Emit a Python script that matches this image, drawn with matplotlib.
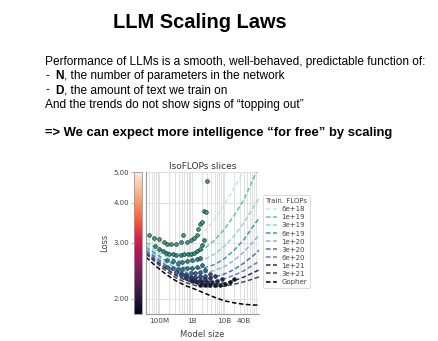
import numpy as np
import matplotlib
matplotlib.use("Agg")
import matplotlib.pyplot as plt
import matplotlib.ticker as mticker
from matplotlib.colors import LogNorm
import seaborn as sns

# slide text
title = "LLM Scaling Laws"
intro = "Performance of LLMs is a smooth, well-behaved, predictable function of:"
bullets = [("N", ", the number of parameters in the network"),
           ("D", ", the amount of text we train on")]
trend_line = "And the trends do not show signs of \u201ctopping out\u201d"
punch_line = "=> We can expect more intelligence \u201cfor free\u201d by scaling"

# IsoFLOP fits, loss at these model sizes
budgets = ["6e+18", "1e+19", "3e+19", "6e+19", "1e+20", "3e+20", "6e+20", "1e+21", "3e+21", "Gopher"]
model_size = [4e7, 8e7, 1.6e8, 3.2e8, 6.3e8, 1.3e9, 2.5e9, 5e9, 1e10, 2e10, 4e10, 8e10, 1.25e11]
fit_loss = [
    [3.08, 3.01, 2.97, 2.95, 2.98, 3.08, 3.25, 3.55, 3.95, 4.45, 5.05, 5.80, 6.40],
    [3.00, 2.90, 2.81, 2.76, 2.75, 2.78, 2.88, 3.05, 3.30, 3.65, 4.10, 4.80, 5.30],
    [2.95, 2.83, 2.72, 2.65, 2.61, 2.61, 2.66, 2.76, 2.92, 3.15, 3.47, 3.90, 4.20],
    [2.90, 2.77, 2.64, 2.55, 2.50, 2.48, 2.50, 2.56, 2.67, 2.84, 3.07, 3.40, 3.62],
    [2.86, 2.73, 2.60, 2.50, 2.44, 2.41, 2.41, 2.45, 2.52, 2.64, 2.81, 3.03, 3.20],
    [2.83, 2.69, 2.55, 2.44, 2.37, 2.33, 2.32, 2.34, 2.39, 2.47, 2.59, 2.74, 2.86],
    [2.80, 2.66, 2.52, 2.41, 2.33, 2.28, 2.26, 2.27, 2.31, 2.37, 2.45, 2.56, 2.63],
    [2.78, 2.63, 2.49, 2.37, 2.29, 2.24, 2.22, 2.22, 2.24, 2.28, 2.34, 2.42, 2.47],
    [2.76, 2.60, 2.45, 2.33, 2.25, 2.20, 2.18, 2.18, 2.19, 2.22, 2.26, 2.31, 2.35],
    [2.70, 2.53, 2.39, 2.28, 2.20, 2.14, 2.08, 2.02, 1.97, 1.94, 1.92, 1.91, 1.91],
]
line_colors = ["#c4ecd4", "#5cc8a0", "#8fd8cc", "#3a9fb5", "#8fb4d8",
               "#4b6fb8", "#7a78b0", "#2e2e5e", "#4a4a4a", "black"]

# training runs (scatter), one list per budget
run_size = [
    [5.1e7, 7.2e7, 1.0e8, 1.45e8, 1.8e8, 2.3e8, 3.3e8, 4.7e8, 5.6e8, 7.4e8, 9.3e8,
     1.17e9, 1.48e9, 1.58e9, 1.86e9, 2.1e9, 2.35e9, 2.8e9, 2.95e9],
    [7.8e7, 1.0e8, 1.3e8, 1.6e8, 2.05e8, 2.6e8, 3.3e8, 4.7e8, 5.9e8, 7.8e8, 9.3e8,
     1.17e9, 1.48e9, 1.78e9, 2.1e9, 2.35e9],
    [1.8e8, 2.6e8, 3.7e8, 5.2e8, 7.4e8, 1.05e9, 1.48e9, 1.86e9],
    [1.8e8, 2.6e8, 3.7e8, 5.2e8, 7.4e8, 1.05e9, 1.48e9, 2.1e9],
    [3.3e8, 4.7e8, 6.6e8, 9.3e8, 1.3e9, 1.86e9, 2.6e9],
    [4.7e8, 6.6e8, 9.3e8, 1.3e9, 1.86e9, 2.6e9, 3.7e9],
    [6.6e8, 9.3e8, 1.3e9, 1.86e9, 2.6e9, 3.7e9, 5.2e9],
    [1.05e9, 1.48e9, 2.1e9, 2.95e9, 4.2e9, 6.0e9, 8.5e9],
    [1.86e9, 2.6e9, 3.7e9, 5.2e9, 7.4e9, 1.05e10, 1.48e10, 2.0e10],
]
run_loss = [
    [3.16, 3.11, 3.07, 3.02, 2.97, 2.96, 2.97, 3.02, 3.18, 3.02, 3.05,
     3.11, 3.18, 3.30, 3.43, 3.47, 3.77, 3.75, 4.69],
    [2.92, 2.87, 2.82, 2.79, 2.77, 2.76, 2.75, 2.75, 2.76, 2.76, 2.77,
     2.79, 2.82, 2.86, 2.95, 3.05],
    [2.64, 2.62, 2.59, 2.61, 2.62, 2.64, 2.66, 2.68],
    [2.51, 2.49, 2.47, 2.48, 2.49, 2.50, 2.52, 2.56],
    [2.43, 2.40, 2.39, 2.40, 2.41, 2.43, 2.46],
    [2.37, 2.35, 2.34, 2.34, 2.35, 2.36, 2.39],
    [2.32, 2.30, 2.29, 2.29, 2.30, 2.32, 2.35],
    [2.28, 2.26, 2.25, 2.25, 2.26, 2.28, 2.30],
    [2.21, 2.20, 2.20, 2.20, 2.21, 2.23, 2.25, 2.30],
]
run_colors = ["#3ea58a", "#2c9a82", "#2a8f8f", "#2d7f9a", "#3b6aa0",
              "#3f4f8f", "#35357a", "#25234f", "#121228"]

x_ticks = [1e8, 1e9, 1e10, 4e10]
x_ticklabels = ["100M", "1B", "10B", "40B"]
y_ticks = [2, 3, 4, 5]
y_lim = (1.79, 5.0)
x_lim = (4e7, 1.15e11)

W, H = 438, 341
fig = plt.figure(figsize=(W / 100, H / 100), dpi=100)
slide_font = "Liberation Sans"
body_size = 8.6

fig.text(199.5 / W, 1 - 22 / H, title, fontsize=14.4, fontweight="bold",
         family=slide_font, ha="center", va="center")

renderer = fig.canvas.get_renderer()
x0 = 45 / W
fig.text(x0, 1 - 62 / H, intro, fontsize=body_size, family=slide_font, va="center")
for i, (bold_part, rest) in enumerate(bullets):
    y = 1 - (76 + 14.5 * i) / H
    fig.text(x0, y, "-", fontsize=body_size, family=slide_font, va="center")
    t = fig.text(55 / W, y, bold_part, fontsize=body_size, family=slide_font,
                 fontweight="bold", va="center")
    bb = t.get_window_extent(renderer)
    fig.text(bb.x1 / W, y, rest, fontsize=body_size, family=slide_font, va="center")
fig.text(x0, 1 - 105 / H, trend_line, fontsize=body_size, family=slide_font, va="center")
fig.text(x0, 1 - 133 / H, punch_line, fontsize=9.4, family=slide_font,
         fontweight="bold", va="center")

# chart
ax_l, ax_r, ax_t, ax_b = 146, 259, 172, 314
ax = fig.add_axes([ax_l / W, 1 - ax_b / H, (ax_r - ax_l) / W, (ax_b - ax_t) / H])
cax = fig.add_axes([134 / W, 1 - ax_b / H, 8 / W, (ax_b - ax_t) / H])

ax.set_xscale("log")
ax.set_yscale("log")
ax.set_xlim(*x_lim)
ax.set_ylim(*y_lim)
ax.grid(True, which="both", axis="x", color="#dcdcdc", lw=0.6)
ax.grid(True, which="major", axis="y", color="#dcdcdc", lw=0.6)
ax.set_axisbelow(True)

for i, name in enumerate(budgets):
    ax.plot(model_size, fit_loss[i], ls=(0, (3, 1.6)), lw=1.1,
            color=line_colors[i], label=name, zorder=2)
for i in range(len(run_size)):
    ax.scatter(run_size[i], run_loss[i], s=7, color=run_colors[i],
               edgecolor="#10202a", linewidth=0.45, zorder=3)

ax.xaxis.set_major_locator(mticker.FixedLocator(x_ticks))
ax.xaxis.set_major_formatter(mticker.FixedFormatter(x_ticklabels))
ax.xaxis.set_minor_locator(mticker.LogLocator(base=10, subs=np.arange(2, 10)))
ax.xaxis.set_minor_formatter(mticker.NullFormatter())
ax.yaxis.set_major_locator(mticker.FixedLocator(y_ticks))
ax.yaxis.set_minor_locator(mticker.NullLocator())
ax.tick_params(axis="y", left=False, labelleft=False)
ax.tick_params(axis="x", which="both", length=0, labelsize=5.2,
               labelcolor="#444444", pad=3)
for s in ax.spines.values():
    s.set_visible(False)
ax.spines["left"].set_visible(True)
ax.spines["bottom"].set_visible(True)
ax.spines["left"].set_color("#999999")
ax.spines["bottom"].set_color("#999999")
ax.spines["left"].set_linewidth(0.8)
ax.spines["bottom"].set_linewidth(0.8)

ax.set_title("IsoFLOPs slices", fontsize=6.5, color="#333333", pad=2)
ax.set_xlabel("Model size", fontsize=6, color="#444444", labelpad=4)

leg = ax.legend(title="Train. FLOPs", loc="upper left", bbox_to_anchor=(1.02, 0.845),
                fontsize=5, title_fontsize=5, labelspacing=0.3, handlelength=1.6,
                handletextpad=0.6, borderpad=0.4, borderaxespad=0.2,
                frameon=True, fancybox=True)
leg.get_frame().set_edgecolor("#cccccc")
leg.get_frame().set_linewidth(0.6)
for t in leg.get_texts():
    t.set_color("#444444")
leg.get_title().set_color("#444444")

rocket = sns.color_palette("rocket", as_cmap=True)
sm = plt.cm.ScalarMappable(norm=LogNorm(*y_lim), cmap=rocket)
cbar = fig.colorbar(sm, cax=cax)
cbar.ax.yaxis.set_ticks_position("left")
cbar.ax.yaxis.set_label_position("left")
cbar.set_ticks(y_ticks)
cbar.ax.yaxis.set_major_formatter(mticker.FormatStrFormatter("%.2f"))
cbar.ax.yaxis.set_minor_locator(mticker.NullLocator())
cbar.ax.tick_params(labelsize=5, labelcolor="#444444", length=2, width=0.5,
                    color="#999999", pad=1.5)
cbar.outline.set_edgecolor("#999999")
cbar.outline.set_linewidth(0.6)
cbar.set_label("Loss", fontsize=6, color="#444444", labelpad=3)

fig.savefig("out.png", dpi=100)
